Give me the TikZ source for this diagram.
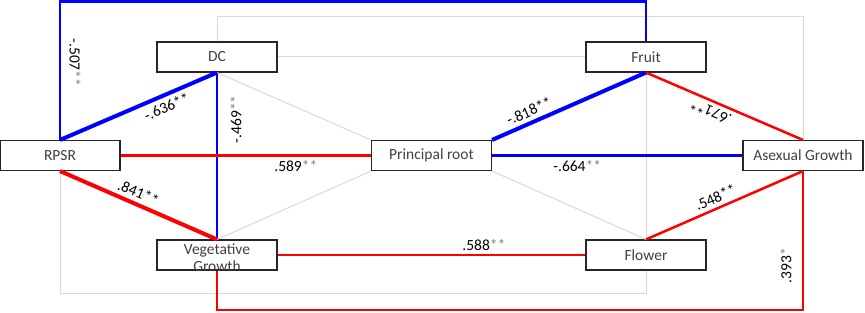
\documentclass[tikz,border=0pt]{standalone}
\usepackage{fontspec}
\setmainfont{Carlito}
\definecolor{boxtext}{HTML}{404040}
\definecolor{gridgray}{HTML}{D9D9D9}
\definecolor{stargray}{HTML}{808080}
\newcommand{\gst}[1]{\textcolor{stargray}{#1}}
\tikzset{
  var/.style={draw=black!85, fill=white, line width=1.1pt, minimum width=120pt,
    minimum height=30pt, inner sep=0pt, text=boxtext, font=\fontsize{15.5}{17.5}\selectfont},
  weak/.style={draw=gridgray, line width=1pt},
  posline/.style={draw=red, line width=2.5pt},
  negline/.style={draw=blue, line width=2.5pt},
  strong/.style={line width=4pt},
  coef/.style={font=\fontsize{15.5}{17.5}\selectfont, text=black, inner sep=4pt}
}
\begin{document}
\begin{tikzpicture}[x=1pt,y=-1pt]
\useasboundingbox (0,0) rectangle (865,313);
\node[var] (dc) at (217,57) {DC};
\node[var] (rpsr) at (60,155.5) {RPSR};
\node[var] (veg) at (217,255) {\raisebox{-8pt}[0pt][0pt]{\begin{tabular}{@{}c@{}}Vegetative\\Growth\end{tabular}}};
\node[var] (root) at (431.5,155.5) {Principal root};
\node[var] (fruit) at (646,57) {Fruit};
\node[var] (asex) at (803,155.5) {Asexual Growth};
\node[var] (flower) at (646,255) {Flower};
\coordinate (topgray) at (803,17);
\coordinate (botgray) at (646,293);
\coordinate (topblue) at (0,1.5);
\coordinate (botred) at (0,310);

\draw[weak] (dc.east) -- (fruit.west);
\draw[weak] (dc.south) -- (root.north west);
\draw[weak] (veg.north) -- (root.south west);
\draw[weak] (root.south east) -- (flower.north);
\draw[weak] (fruit.south) -- (flower.north);
\draw[weak] (dc.north) |- (topgray) -- (asex.north);
\draw[weak] (rpsr.south) |- (botgray) -- (flower.south);

\draw[negline] (rpsr.north) -- node[coef, pos=.56, xshift=15pt, rotate=-90] {-.507\gst{**}} (rpsr.north |- topblue) -| (fruit.north);
\draw[negline, strong] (rpsr.north) -- (dc.south) node[coef, pos=.65, sloped, below] {-.636**};
\draw[negline] (dc.south) -- (veg.north) node[coef, pos=.28, xshift=19pt, rotate=90] {-.469\gst{**}};
\draw[negline, strong] (root.north east) -- (fruit.south) node[coef, pos=.27, sloped, above] {-.818**};
\draw[negline] (root.east) -- (asex.west) node[coef, pos=.34, below] {-.664\gst{**}};

\draw[posline] (rpsr.east) -- (root.west) node[coef, pos=.70, below] {.589\gst{**}};
\draw[posline, strong] (rpsr.south) -- (veg.north) node[coef, pos=.47, sloped, above] {.841**};
\draw[posline] (veg.east) -- (flower.west) node[coef, pos=.67, above, inner sep=3pt] {.588\gst{**}};
\draw[posline] (asex.north) -- (fruit.south) node[coef, pos=.56, sloped, allow upside down, above] {.671**};
\draw[posline] (flower.north) -- (asex.south) node[coef, pos=.47, sloped, above] {.548**};
\draw[posline] (veg.south) |- (botred -| asex.south) -- node[coef, pos=.32, xshift=-17pt, rotate=90] {.393\gst{*}} (asex.south);
\end{tikzpicture}
\end{document}
